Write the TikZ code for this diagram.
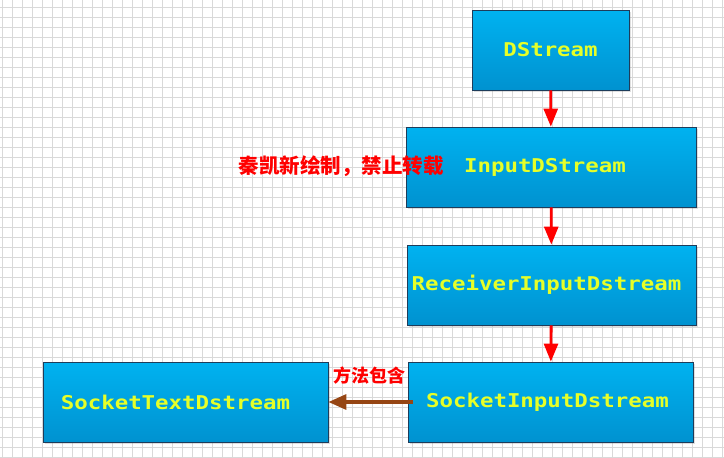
\documentclass[tikz,border=0pt]{standalone}
\usepackage{fontspec}
\newfontfamily\boxfont{DejaVu Sans Mono}
\newfontfamily\cjk{Noto Sans CJK SC}
\usetikzlibrary{arrows.meta,shadows}
\definecolor{boxtop}{RGB}{0,178,240}
\definecolor{boxbottom}{RGB}{0,146,208}
\definecolor{boxline}{RGB}{30,60,90}
\definecolor{boxtext}{RGB}{230,255,40}
\definecolor{brownarrow}{RGB}{150,70,20}
\newcommand{\boxlabel}[2][0pt]{\scalebox{1.18}[1]{#2}\hspace*{#1}}
\begin{document}
\begin{tikzpicture}[x=1pt,y=-1pt]
		\tikzset{gridline/.style = {draw=black!15, line width=0.6pt}}
		\tikzset{stream/.style = {draw=boxline, line width=0.8pt, top color=boxtop, bottom color=boxbottom,
				minimum height=80pt, inner sep=0pt, text=boxtext, font=\boxfont\bfseries\fontsize{19}{19}\selectfont,
				drop shadow={shadow xshift=2pt, shadow yshift=-2pt, opacity=0.25}}}
		\tikzset{edge/.style = {-{Triangle[length=18pt,width=14pt]}, red, line width=2.8pt}}
		\tikzset{note/.style = {text=red, font=\cjk\bfseries}}
		
		\useasboundingbox (0,0) rectangle (724,458);
		\fill[white] (0,0) rectangle (724,458);
		\foreach \gx in {2,12,...,722}
			\draw[gridline] (\gx,0) -- (\gx,458);
		\foreach \gy in {7,17,...,457}
			\draw[gridline] (0,\gy) -- (724,\gy);
		
		\node[stream, minimum width=157pt] (ds)  at (550.5, 50) {\boxlabel{DStream}};
		\node[stream, minimum width=290pt] (ids) at (551, 167) {\boxlabel[12pt]{InputDStream}};
		\node[stream, minimum width=289pt] (rds) at (551.5, 285) {\boxlabel[10pt]{ReceiverInputDstream}};
		\node[stream, minimum width=285pt] (sds) at (550.5, 402) {\boxlabel[6pt]{SocketInputDstream}};
		\node[stream, minimum width=285pt] (tds) at (185.5, 402) {\boxlabel[20pt]{SocketTextDstream}};
		
		\draw[edge] (ds)  to (ids);
		\draw[edge] (ids) to (rds);
		\draw[edge] (rds) to (sds);
		
		\tikzset{edge/.style = {-{Triangle[length=18pt,width=15pt]}, brownarrow, line width=3.2pt}}
		\draw[edge] ([xshift=5pt]sds.west) to (tds.east);
		
		\node[note, font=\cjk\bfseries\fontsize{18}{18}\selectfont] (incl) at (369, 376) {方法包含};
		\node[note, font=\cjk\bfseries\fontsize{20.5}{20.5}\selectfont] (mark) at (341, 166) {秦凯新绘制，禁止转载};
\end{tikzpicture}
\end{document}
